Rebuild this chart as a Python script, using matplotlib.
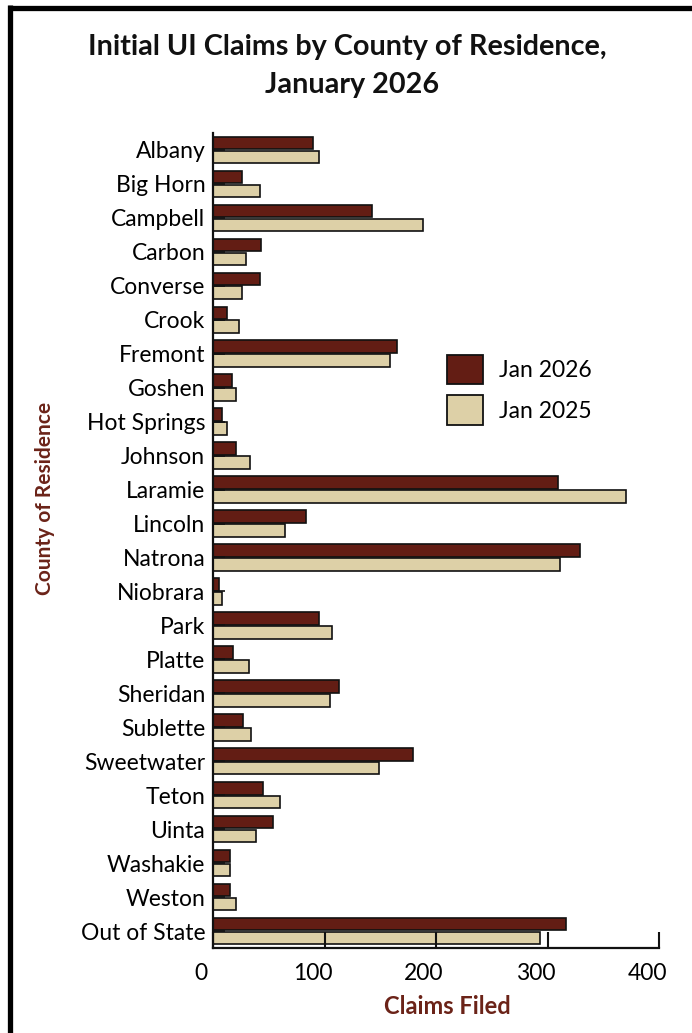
import matplotlib
matplotlib.use("Agg")
import matplotlib.pyplot as plt
import matplotlib.transforms as mtransforms
from matplotlib.lines import Line2D
import numpy as np

counties = ["Albany", "Big Horn", "Campbell", "Carbon", "Converse", "Crook",
            "Fremont", "Goshen", "Hot Springs", "Johnson", "Laramie", "Lincoln",
            "Natrona", "Niobrara", "Park", "Platte", "Sheridan", "Sublette",
            "Sweetwater", "Teton", "Uinta", "Washakie", "Weston", "Out of State"]
jan2026 = [90, 26, 143, 43, 42, 13, 165, 17, 8, 21, 309, 83, 329, 5, 95, 18,
           113, 27, 179, 45, 54, 15, 15, 317]
jan2025 = [95, 42, 188, 30, 26, 23, 159, 21, 13, 33, 370, 65, 311, 8, 107, 32,
           105, 34, 149, 60, 39, 15, 21, 293]
xticks = [0, 100, 200, 300, 400]
series_labels = ["Jan 2026", "Jan 2025"]
title_lines = ["Initial UI Claims by County of Residence,", "January 2026"]

C26 = "#631D14"
C25 = "#DDD0A7"
LABC = "#6B2318"

plt.rcParams['font.family'] = ['Lato', 'DejaVu Sans']

W, H = 692, 1033
fig = plt.figure(figsize=(W / 100, H / 100), dpi=100)
fig.patch.set_facecolor("white")

ax = fig.add_axes([213 / W, 1 - 948 / H, (659 - 213) / W, (948 - 133) / H])

y = np.arange(len(counties))
bh = 0.37
off = 0.205
ax.barh(y - off, jan2026, height=bh, color=C26, edgecolor="#111111",
        linewidth=1.2, label=series_labels[0], zorder=1)
ax.barh(y + off, jan2025, height=bh, color=C25, edgecolor="#111111",
        linewidth=1.2, label=series_labels[1], zorder=1)

ax.set_ylim(len(counties) - 0.5, -0.5)
ax.set_xlim(0, 400)
ax.set_yticks(y)
ax.set_yticklabels(counties, fontsize=16.5)
ax.set_xticks(xticks)
ax.set_xticklabels([str(v) for v in xticks], fontsize=16.5)

for s in ["top", "right"]:
    ax.spines[s].set_visible(False)
for s in ["left", "bottom"]:
    ax.spines[s].set_linewidth(1.6)
    ax.spines[s].set_color("#111111")

ax.tick_params(axis="y", direction="in", length=8.5, width=1.2, pad=5.5,
               color="#111111")
ax.tick_params(axis="x", direction="in", length=11.5, width=1.5, pad=11,
               color="#111111")

offset = mtransforms.ScaledTranslation(-12 / 100, 0, fig.dpi_scale_trans)
for t in ax.xaxis.get_major_ticks():
    t.label1.set_transform(t.label1.get_transform() + offset)

leg = ax.legend(loc="upper left", bbox_to_anchor=(447 / W, 1 - 355 / H),
                bbox_transform=fig.transFigure, frameon=False, fontsize=16.5,
                handlelength=1.57, handleheight=1.6, handletextpad=0.7,
                labelspacing=0.48, borderpad=0, borderaxespad=0)
for p in leg.get_patches():
    p.set_linewidth(1.3)

fig.text(347 / W, 1 - 47 / H, title_lines[0], ha="center", va="center",
         fontsize=20.7, fontweight="bold", color="#111111")
fig.text(352 / W, 1 - 85 / H, title_lines[1], ha="center", va="center",
         fontsize=20.7, fontweight="bold", color="#111111")

fig.text(45 / W, 1 - 498 / H, "County of Residence", rotation=90,
         ha="center", va="center", fontsize=15, fontweight="bold", color=LABC)
fig.text(447 / W, 1 - 1006 / H, "Claims Filed", ha="center", va="center",
         fontsize=17, fontweight="bold", color=LABC)

# outer frame (top and left)
fig.add_artist(Line2D([8 / W, 1], [1 - 7.5 / H, 1 - 7.5 / H],
                      transform=fig.transFigure, color="black", linewidth=3.8,
                      solid_capstyle="butt"))
fig.add_artist(Line2D([10 / W, 10 / W], [0, 1 - 5 / H],
                      transform=fig.transFigure, color="black", linewidth=3.8,
                      solid_capstyle="butt"))

fig.savefig("out.png", dpi=100)
